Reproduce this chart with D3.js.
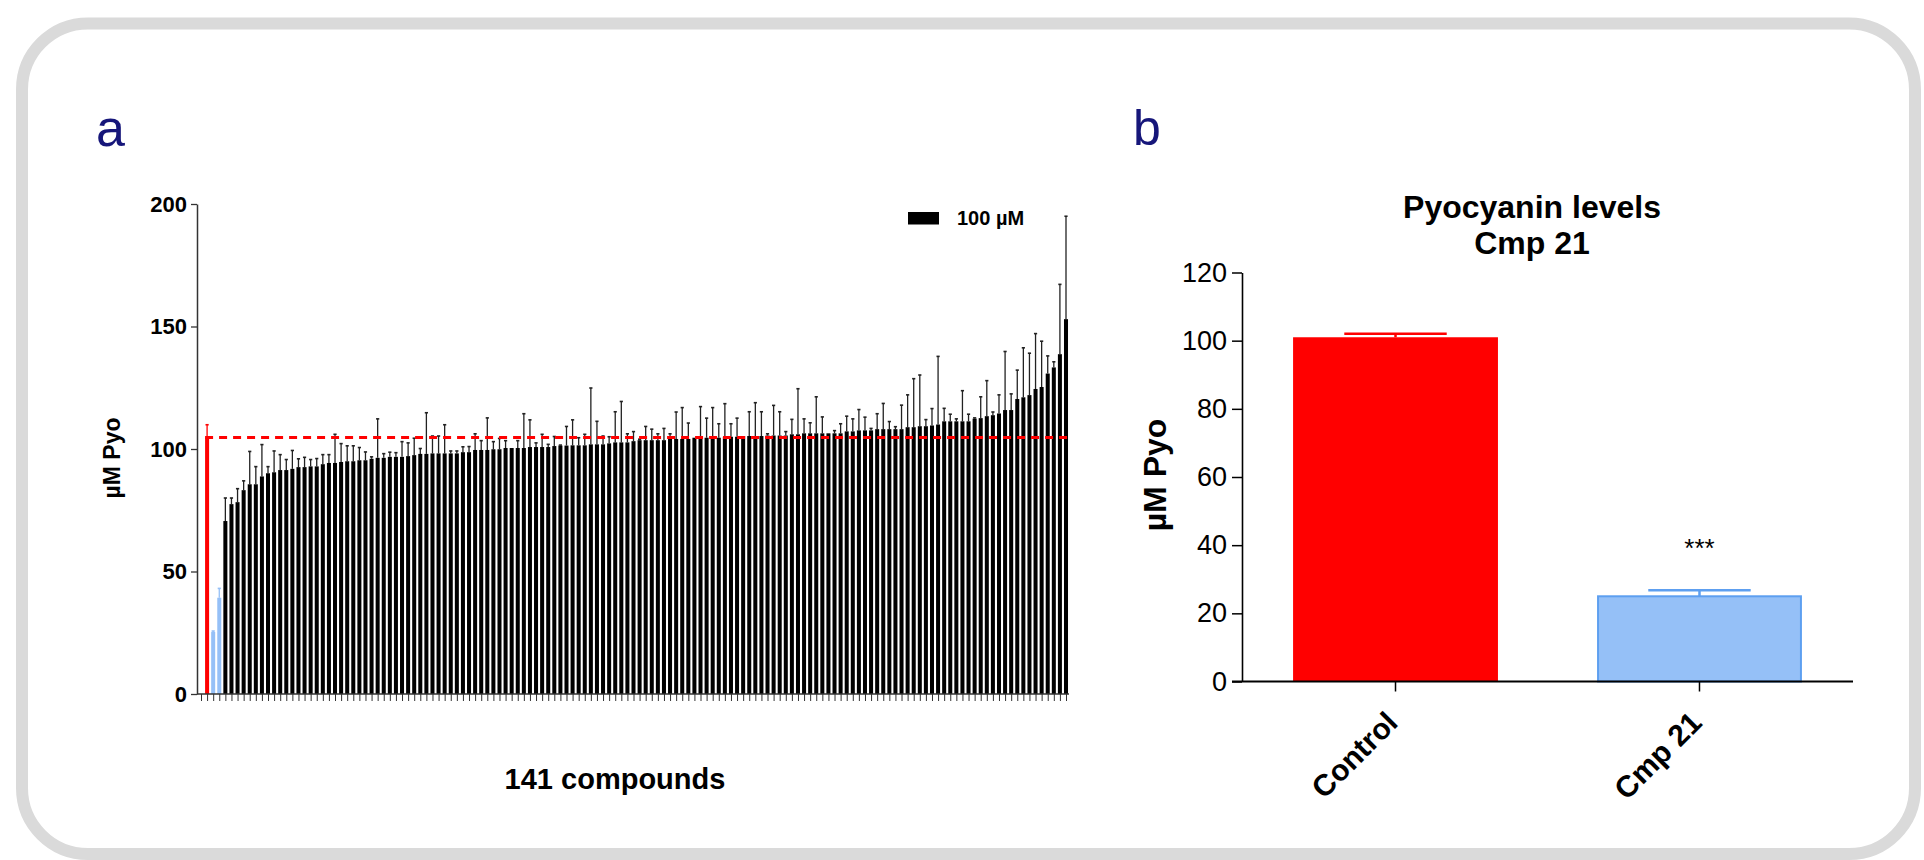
<!DOCTYPE html>
<html><head><meta charset="utf-8">
<script src="https://cdn.jsdelivr.net/npm/d3@7"></script>
<style>
body{margin:0;background:#fff;}
svg{display:block;font-family:"Liberation Sans",Arial,Helvetica,sans-serif;}
</style>
</head><body>
<svg id="chart" width="1924" height="860"></svg>
<script>
// ---------- Panel a data ----------
const controlLabel = "Control";
const controlMean = 104.7;
const controlErr = 5.2;
const hitMeans = [25.3, 39.3];
const hitErrs = [0.4, 3.8];
const compoundMeans = [
 70.6,77.5,78.3,83.2,85.6,85.6,88.8,90.1,90.5,91.4,
 91.4,91.9,92.6,92.6,92.9,92.9,93.8,94.3,94.3,94.7,
 95.0,95.0,95.4,95.4,96.0,96.4,96.4,96.8,96.8,96.8,
 97.1,97.5,98.0,98.0,98.2,98.2,98.2,98.2,98.2,98.7,
 98.7,99.6,99.6,99.6,99.9,99.9,100.4,100.4,100.4,100.4,
 100.8,100.8,100.8,100.8,101.2,101.4,101.4,101.5,101.5,101.5,
 101.9,101.9,101.9,102.3,102.7,102.7,102.7,103.2,103.6,103.6,
 103.6,103.6,103.6,104.1,104.1,104.1,104.1,104.6,104.6,104.6,
 104.6,104.6,105.0,105.0,105.0,105.3,105.3,105.3,105.3,105.5,
 105.5,105.5,105.5,106.0,106.0,106.4,106.4,106.4,106.4,106.4,
 106.4,106.4,107.2,107.2,107.6,107.6,107.6,108.1,108.1,108.1,
 108.1,108.1,108.9,108.9,109.3,109.3,109.6,110.0,111.3,111.3,
 111.3,111.3,111.3,112.4,112.6,113.4,113.8,114.5,115.9,115.9,
 120.4,121.1,122.0,124.5,125.3,130.8,133.3,138.7,153.0
];
const compoundErrs = [
 9.4,2.5,5.5,3.8,13.4,7.2,13.0,2.7,8.7,6.3,
 4.3,7.5,3.4,4.0,2.8,3.2,3.9,3.4,11.7,7.5,
 6.3,6.3,5.2,3.4,0.8,15.9,1.7,1.9,1.7,6.2,
 5.4,6.9,2.2,16.8,7.1,7.1,11.7,1.0,1.0,2.2,
 2.3,6.6,3.8,13.1,3.1,4.4,3.0,0,3.0,14.0,
 11.1,1.7,5.2,1.1,3.9,0.2,7.8,10.4,3.1,4.5,
 23.0,9.4,3.4,2.7,12.5,16.7,3.5,3.9,0.4,5.6,
 4.5,2.6,4.8,2.1,11.0,12.8,6.5,0,12.7,8.0,
 12.3,5.7,13.5,5.3,7.6,0,9.9,13.6,9.9,0.7,
 12.3,9.7,1.6,6.1,18.6,5.9,4.3,14.9,6.7,0,
 1.1,3.9,6.2,5.1,8.5,5.4,0.8,6.3,10.5,3.1,
 1.0,9.8,13.2,19.8,20.9,2.7,6.9,27.8,5.3,2.9,
 1.0,12.5,2.9,0.3,8.7,14.5,1.3,7.6,23.9,6.6,
 11.8,20.2,17.1,22.6,18.7,7.2,2.3,28.5,42.0
];
const yTicksA = [0, 50, 100, 150, 200];
const thresholdA = 104.7;
const legendLabelA = "100 \u00b5M";
const xTitleA = "141 compounds";
const yTitle = "\u00b5M Pyo";

// ---------- Panel b data ----------
const groupsB = ["Control", "Cmp 21"];
const meansB = [101.0, 25.0];
const errsB = [1.0, 1.8];
const yTicksB = [0, 20, 40, 60, 80, 100, 120];
const titleB = ["Pyocyanin levels", "Cmp 21"];
const sigB = ["", "***"];

// ---------- build ----------
const svg = d3.select("#chart");
const NAVY = "#16167a", RED = "#ff0000", BLUE = "#95c0f7", BLUE_D = "#5d9ff0";

// frame
svg.append("rect").attr("x", 22).attr("y", 23.5).attr("width", 1893).attr("height", 830.5)
  .attr("rx", 66).attr("ry", 66).attr("fill", "none").attr("stroke", "#dadada").attr("stroke-width", 12);

// panel letters
svg.append("text").attr("x", 96).attr("y", 146).attr("fill", NAVY).attr("font-size", 52).text("a");
svg.append("text").attr("x", 1133).attr("y", 145).attr("fill", NAVY).attr("font-size", 50).text("b");

// ===== Panel a =====
const slots = [{id: "s0", v: null, e: 0, c: null},
  {id: controlLabel, v: controlMean, e: controlErr, c: RED}]
  .concat(hitMeans.map((v, i) => ({id: "h" + i, v, e: hitErrs[i], c: BLUE})))
  .concat(compoundMeans.map((v, i) => ({id: "c" + i, v, e: compoundErrs[i], c: "#000"})));

const xA = d3.scalePoint().domain(slots.map(d => d.id)).range([201, 1066]);
const stepA = xA.step();
const bwA = stepA * 0.66;
const yA = d3.scaleLinear().domain([0, 200]).range([694, 204]);
const gA = svg.append("g");

// bars
const barsA = slots.filter(d => d.v !== null);
gA.append("g").selectAll("rect").data(barsA).join("rect")
  .attr("x", d => xA(d.id) - bwA / 2).attr("width", bwA)
  .attr("y", d => yA(d.v)).attr("height", d => yA(0) - yA(d.v))
  .attr("fill", d => d.c);

// error bars
const errA = gA.append("g").selectAll("g").data(barsA.filter(d => d.e > 0)).join("g");
errA.append("line").attr("x1", d => xA(d.id)).attr("x2", d => xA(d.id))
  .attr("y1", d => yA(d.v)).attr("y2", d => yA(d.v + d.e))
  .attr("stroke", d => d.c === "#000" ? "#222" : d.c).attr("stroke-width", 1.3);
errA.append("line").attr("x1", d => xA(d.id) - 1.6).attr("x2", d => xA(d.id) + 1.6)
  .attr("y1", d => yA(d.v + d.e)).attr("y2", d => yA(d.v + d.e))
  .attr("stroke", d => d.c === "#000" ? "#222" : d.c).attr("stroke-width", 1.6);

// threshold dashed line
gA.append("line").attr("x1", xA(controlLabel) - bwA / 2).attr("x2", xA(slots[slots.length - 1].id) + 7)
  .attr("y1", yA(thresholdA)).attr("y2", yA(thresholdA))
  .attr("stroke", RED).attr("stroke-width", 2.8).attr("stroke-dasharray", "8,6");

// y axis a
const axYA = gA.append("g").attr("transform", "translate(197,0)")
  .call(d3.axisLeft(yA).tickValues(yTicksA).tickSize(6).tickSizeOuter(0).tickPadding(4));
axYA.select(".domain").attr("stroke", "#333").attr("stroke-width", 1.5);
axYA.selectAll(".tick line").attr("stroke", "#333").attr("stroke-width", 1.3);
axYA.selectAll(".tick text").attr("font-size", 22).attr("font-weight", "bold").attr("fill", "#000")
  .attr("font-family", "Liberation Sans, Arial, sans-serif");

// x axis a
const axXA = gA.append("g").attr("transform", `translate(0,${yA(0)})`)
  .call(d3.axisBottom(xA).tickSize(7).tickSizeOuter(0).tickFormat(""));
axXA.select(".domain").remove();
axXA.selectAll(".tick line").attr("stroke", "#333").attr("stroke-width", 1);
gA.append("line").attr("x1", 197).attr("x2", xA.range()[1] + 3)
  .attr("y1", yA(0)).attr("y2", yA(0)).attr("stroke", "#333").attr("stroke-width", 1.3);

// titles a
gA.append("text").attr("x", 615).attr("y", 789).attr("text-anchor", "middle")
  .attr("font-size", 29).attr("font-weight", "bold").text(xTitleA);
gA.append("text").attr("transform", "translate(112,458) rotate(-90)").attr("dy", "0.35em")
  .attr("text-anchor", "middle").attr("font-size", 23).attr("font-weight", "bold").text(yTitle);

// legend a
gA.append("rect").attr("x", 908).attr("y", 212).attr("width", 31).attr("height", 12.5).attr("fill", "#000");
gA.append("text").attr("x", 957).attr("y", 224.5).attr("font-size", 20).attr("font-weight", "bold").text(legendLabelA);

// ===== Panel b =====
const xB = d3.scaleBand().domain(groupsB).range([1242, 1853]).paddingInner(0.326).paddingOuter(0.168);
const yB = d3.scaleLinear().domain([0, 120]).range([681.5, 272.5]);
const gB = svg.append("g");
const colB = [RED, BLUE];
const strokeB = [RED, BLUE_D];
const dataB = groupsB.map((g, i) => ({g, v: meansB[i], e: errsB[i], i}));

gB.append("g").selectAll("rect").data(dataB).join("rect")
  .attr("x", d => xB(d.g) + (d.i ? 1 : 0)).attr("width", d => xB.bandwidth() - (d.i ? 2 : 0))
  .attr("y", d => yB(d.v)).attr("height", d => yB(0) - yB(d.v))
  .attr("fill", d => colB[d.i]).attr("stroke", d => d.i ? strokeB[d.i] : "none").attr("stroke-width", 2);

const errB = gB.append("g").selectAll("g").data(dataB).join("g");
errB.append("line").attr("x1", d => xB(d.g) + xB.bandwidth() / 2).attr("x2", d => xB(d.g) + xB.bandwidth() / 2)
  .attr("y1", d => yB(d.v)).attr("y2", d => yB(d.v + d.e)).attr("stroke", d => strokeB[d.i]).attr("stroke-width", 2.5);
errB.append("line").attr("x1", d => xB(d.g) + xB.bandwidth() * 0.25).attr("x2", d => xB(d.g) + xB.bandwidth() * 0.75)
  .attr("y1", d => yB(d.v + d.e)).attr("y2", d => yB(d.v + d.e)).attr("stroke", d => strokeB[d.i]).attr("stroke-width", 2.5);

// significance
gB.append("g").selectAll("text").data(dataB).join("text")
  .attr("x", d => xB(d.g) + xB.bandwidth() / 2).attr("y", 557).attr("text-anchor", "middle")
  .attr("font-size", 26).text(d => sigB[d.i]);

// y axis b
const axYB = gB.append("g").attr("transform", "translate(1242,0)")
  .call(d3.axisLeft(yB).tickValues(yTicksB).tickSize(10).tickSizeOuter(0).tickPadding(5));
axYB.select(".domain").attr("stroke", "#000").attr("stroke-width", 1.6);
axYB.selectAll(".tick line").attr("stroke", "#000").attr("stroke-width", 1.5);
axYB.selectAll(".tick text").attr("font-size", 27).attr("fill", "#000")
  .attr("font-family", "Liberation Sans, Arial, sans-serif");

// x axis b
const axXB = gB.append("g").attr("transform", `translate(0,${yB(0)})`)
  .call(d3.axisBottom(xB).tickSize(10).tickSizeOuter(0));
axXB.select(".domain").remove();
gB.append("line").attr("x1", 1232).attr("x2", xB.range()[1]).attr("y1", yB(0)).attr("y2", yB(0))
  .attr("stroke", "#000").attr("stroke-width", 1.8);
axXB.selectAll(".tick line").attr("stroke", "#000").attr("stroke-width", 1.5);
axXB.selectAll(".tick text").attr("font-size", 30).attr("font-weight", "bold").attr("fill", "#000")
  .attr("font-family", "Liberation Sans, Arial, sans-serif")
  .attr("text-anchor", "end").attr("dy", null).attr("y", null)
  .attr("transform", "translate(4,43) rotate(-45)");

// titles b
gB.append("g").selectAll("text").data(titleB).join("text")
  .attr("x", 1532).attr("y", (d, i) => 218 + i * 36).attr("text-anchor", "middle")
  .attr("font-size", 32).attr("font-weight", "bold").text(d => d);
gB.append("text").attr("transform", "translate(1155,475) rotate(-90)").attr("dy", "0.35em")
  .attr("text-anchor", "middle").attr("font-size", 32).attr("font-weight", "bold").text(yTitle);
</script>
</body></html>
